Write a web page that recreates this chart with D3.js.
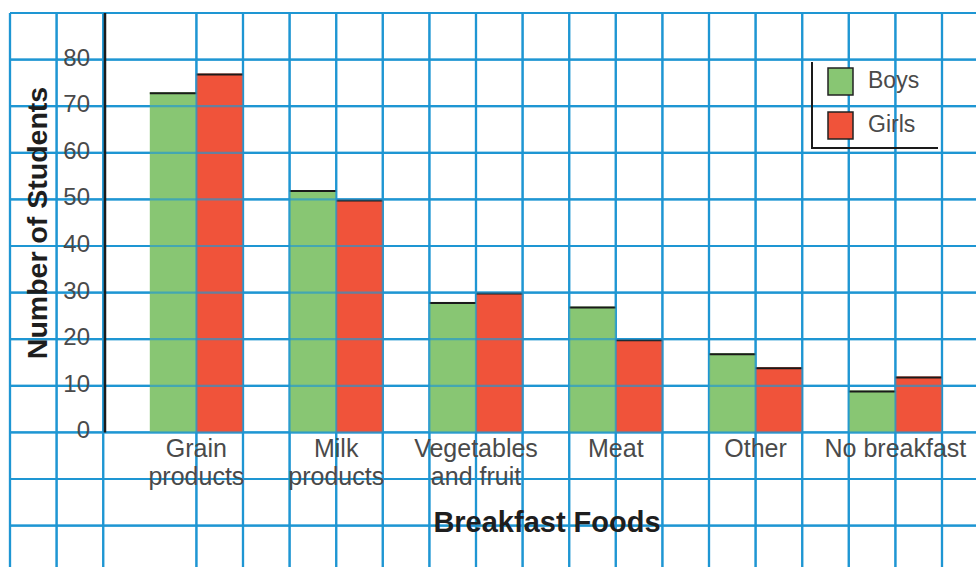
<!DOCTYPE html>
<html>
<head>
<meta charset="utf-8">
<style>
body { margin: 0; background: #fff; }
svg { display: block; }
text { font-family: "Liberation Sans", Arial, Helvetica, sans-serif; }
.tick-label, .cat-label, .legend-label { fill: #4a4a4a; }
.title { fill: #1e1e1e; font-weight: bold; }
</style>
</head>
<body>
<svg width="976" height="567"></svg>
<script src="https://d3js.org/d3.v7.min.js"></script>
<script>

// data
var categories = ["Grain products", "Milk products", "Vegetables and fruit", "Meat", "Other", "No breakfast"];
var catLines = [["Grain", "products"], ["Milk", "products"], ["Vegetables", "and fruit"], ["Meat"], ["Other"], ["No breakfast"]];
var series = ["Boys", "Girls"];
var boys = [73, 52, 28, 27, 17, 9];
var girls = [77, 50, 30, 20, 14, 12];
var yTicks = [0, 10, 20, 30, 40, 50, 60, 70, 80];

var colors = { Boys: "#88c673", Girls: "#f0533a" };
var gridColor = "#1e96d3";

var svg = d3.select("svg"),
    W = +svg.attr("width"),
    H = +svg.attr("height");

// the graph paper: 20 cells across, one cell = 10 students
var gx = d3.scaleLinear().domain([0, 20]).range([10, 942]);
var y = d3.scaleLinear().domain([0, 90]).range([432.4, 13]);

var gridCols = d3.range(21).filter(function(k) { return k !== 3; });
var gridRows = d3.range(-20, 91, 10);

var x0 = d3.scaleBand()
    .domain(categories)
    .range([gx(3), gx(20)])
    .paddingInner(1 / 3)
    .paddingOuter(0);
var x1 = d3.scaleBand().domain(series).range([0, x0.bandwidth()]);

var data = categories.map(function(c, i) {
  return { cat: c, lines: catLines[i], values: [{ s: "Boys", v: boys[i] }, { s: "Girls", v: girls[i] }] };
});

function drawGrid(g) {
  g.selectAll(".vg").data(gridCols).join("line")
      .attr("x1", function(k) { return gx(k); })
      .attr("x2", function(k) { return gx(k); })
      .attr("y1", y(90)).attr("y2", H);
  g.selectAll(".hg").data(gridRows).join("line")
      .attr("y1", function(v) { return y(v); })
      .attr("y2", function(v) { return y(v); })
      .attr("x1", gx(0)).attr("x2", W);
}

// grid under the bars
svg.append("g")
    .attr("stroke", gridColor)
    .attr("stroke-width", 2.2)
    .call(drawGrid);

// bars
var groups = svg.append("g").selectAll("g").data(data).join("g")
    .attr("transform", function(d) { return "translate(" + x0(d.cat) + ",0)"; });

groups.selectAll("rect").data(function(d) { return d.values; }).join("rect")
    .attr("x", function(d) { return x1(d.s); })
    .attr("width", x1.bandwidth())
    .attr("y", function(d) { return y(d.v); })
    .attr("height", function(d) { return y(0) - y(d.v); })
    .attr("fill", function(d) { return colors[d.s]; });

groups.selectAll("line.top").data(function(d) { return d.values; }).join("line")
    .attr("class", "top")
    .attr("x1", function(d) { return x1(d.s); })
    .attr("x2", function(d) { return x1(d.s) + x1.bandwidth(); })
    .attr("y1", function(d) { return y(d.v) + 1; })
    .attr("y2", function(d) { return y(d.v) + 1; })
    .attr("stroke", "#1a1a1a")
    .attr("stroke-width", 2);

// grid showing through the bars
svg.append("g")
    .attr("stroke", gridColor)
    .attr("stroke-width", 2.2)
    .attr("stroke-opacity", 0.65)
    .call(drawGrid);

// y axis line
svg.append("line")
    .attr("x1", 105).attr("x2", 105)
    .attr("y1", y(90)).attr("y2", y(0))
    .attr("stroke", "#1a1a1a")
    .attr("stroke-width", 2.5);

// y tick labels
svg.append("g").selectAll("text").data(yTicks).join("text")
    .attr("class", "tick-label")
    .attr("x", 90)
    .attr("y", function(v) { return y(v) + 6; })
    .attr("text-anchor", "end")
    .attr("font-size", 24)
    .text(function(v) { return v; });

// category labels
var cl = svg.append("g").selectAll("text").data(data).join("text")
    .attr("class", "cat-label")
    .attr("text-anchor", "middle")
    .attr("font-size", 25)
    .attr("x", function(d) { return x0(d.cat) + x0.bandwidth() / 2; })
    .attr("y", 457);
cl.selectAll("tspan").data(function(d) { return d.lines; }).join("tspan")
    .attr("x", function() { var p = d3.select(this.parentNode).datum(); return x0(p.cat) + x0.bandwidth() / 2; })
    .attr("dy", function(t, i) { return i ? 28 : 0; })
    .text(function(t) { return t; });

// axis titles
svg.append("text")
    .attr("class", "title")
    .attr("x", 547).attr("y", 532)
    .attr("text-anchor", "middle")
    .attr("font-size", 29)
    .text("Breakfast Foods");

svg.append("text")
    .attr("class", "title")
    .attr("transform", "translate(47,223) rotate(-90)")
    .attr("text-anchor", "middle")
    .attr("font-size", 28.5)
    .text("Number of Students");

// legend
var legend = svg.append("g").attr("transform", "translate(812,62)");
legend.append("path")
    .attr("d", "M0,0V86H126")
    .attr("fill", "none")
    .attr("stroke", "#1a1a1a")
    .attr("stroke-width", 2);
var li = legend.selectAll("g.item").data(series).join("g")
    .attr("class", "item")
    .attr("transform", function(d, i) { return "translate(0," + (i * 44) + ")"; });
li.append("rect")
    .attr("x", 16).attr("y", 6)
    .attr("width", 25).attr("height", 27)
    .attr("fill", function(d) { return colors[d]; })
    .attr("stroke", "#222")
    .attr("stroke-width", 1.5);
li.append("text")
    .attr("class", "legend-label")
    .attr("x", 56).attr("y", 26)
    .attr("font-size", 23)
    .text(function(d) { return d; });

</script>
</body>
</html>
